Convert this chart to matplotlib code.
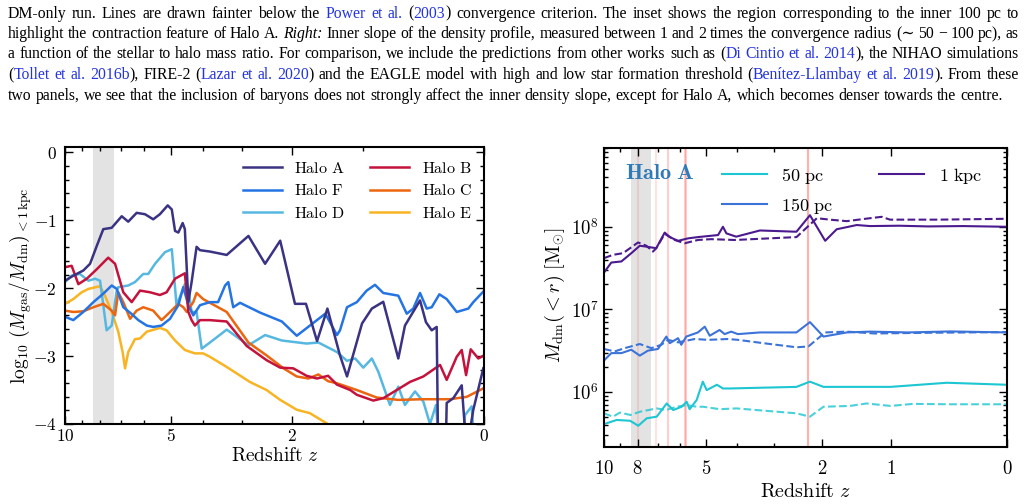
import numpy as np
import matplotlib
matplotlib.use('Agg')
import matplotlib.pyplot as plt
from matplotlib.ticker import FixedLocator, FixedFormatter, NullFormatter, LogLocator

plt.rcParams['mathtext.fontset'] = 'cm'
plt.rcParams['font.family'] = ['DejaVu Serif']
plt.rcParams['axes.unicode_minus'] = True

# ---------------- data: left panel  log10(Mgas/Mdm)(<1kpc) vs redshift ----------------
haloA_z = [10.0, 9.49, 8.91, 8.53, 8.17, 7.835, 7.42, 6.95, 6.66, 6.30, 5.96, 5.64, 5.39, 5.11, 4.97,
           4.86, 4.75, 4.61, 4.54, 4.43, 4.33, 4.18, 4.08, 3.80, 3.36, 2.85, 2.50, 2.21, 1.95, 1.77,
           1.60, 1.45, 1.28, 1.19, 1.01, 0.90, 0.78, 0.633, 0.572, 0.442, 0.394, 0.349, 0.311, 0.300,
           0.245, 0.238, 0.192, 0.136, 0.105, 0.063, 0.004]
haloA_y = [-1.89, -1.815, -1.74, -1.64, -1.376, -1.13, -1.11, -0.94, -1.02, -0.89, -0.91, -0.985, -0.91, -0.78, -0.84,
           -1.156, -1.18, -1.04, -1.13, -2.2, -1.91, -1.39, -1.44, -1.46, -1.51, -1.23, -1.64, -1.30, -2.23, -2.23,
           -2.78, -2.30, -2.99, -3.30, -2.52, -2.30, -2.20, -3.035, -2.55, -2.18, -2.50, -2.62, -2.57, -4.4,
           -4.4, -3.69, -3.62, -3.43, -4.4, -3.79, -3.18]

haloB_z = [10.0, 9.59, 9.19, 8.71, 8.17, 7.59, 7.26, 6.88, 6.51, 6.16, 5.76, 5.39, 5.15, 4.86, 4.54, 4.43,
           4.33, 4.23, 4.08, 3.80, 3.36, 2.89, 2.47, 2.21, 1.98, 1.76, 1.60, 1.44, 1.32, 1.15, 1.07, 0.884,
           0.78, 0.648, 0.527, 0.415, 0.286, 0.238, 0.169, 0.136, 0.108, 0.079, 0.033, 0.0]
haloB_y = [-1.69, -1.67, -1.94, -1.86, -1.72, -1.55, -1.64, -2.06, -2.205, -2.035, -2.06, -2.10, -2.06, -1.86, -1.78, -2.35,
           -2.47, -2.55, -2.47, -2.47, -2.49, -2.85, -3.06, -3.17, -3.18, -3.29, -3.33, -3.29, -3.42, -3.50, -3.57, -3.655,
           -3.62, -3.50, -3.38, -3.30, -3.13, -3.35, -3.01, -2.91, -3.28, -2.90, -3.035, -2.99]

haloF_z = [10.0, 9.49, 8.91, 8.35, 7.835, 7.42, 7.18, 6.88, 6.51, 6.23, 5.89, 5.64, 5.33, 5.03, 4.75, 4.59,
           4.43, 4.28, 4.08, 3.80, 3.58, 3.40, 3.32, 3.20, 3.04, 2.60, 2.18, 1.92, 1.48, 1.32, 1.28, 1.19,
           1.07, 0.957, 0.866, 0.78, 0.633, 0.556, 0.499, 0.442, 0.388, 0.349, 0.291, 0.238, 0.169, 0.094,
           0.063, 0.004]
haloF_y = [-2.42, -2.47, -2.35, -2.205, -2.08, -1.96, -2.01, -2.28, -2.38, -2.47, -2.55, -2.57, -2.55, -2.45, -2.25, -1.985,
           -2.25, -2.40, -2.25, -2.205, -2.205, -1.96, -1.91, -2.28, -2.215, -2.36, -2.49, -2.70, -2.375, -2.69, -2.62, -2.28,
           -2.205, -2.035, -1.95, -2.07, -2.11, -2.375, -2.30, -2.07, -2.30, -2.28, -2.09, -2.16, -2.35, -2.30,
           -2.205, -2.05]

haloD_z = [10.0, 9.59, 9.10, 8.62, 8.26, 8.0, 7.835, 7.67, 7.42, 7.18, 7.11, 6.66, 6.37, 6.03, 5.83, 5.57,
           5.21, 4.97, 4.81, 4.70, 4.54, 4.43, 4.33, 4.18, 4.03, 3.80, 3.36, 2.85, 2.50, 2.18, 1.76, 1.58,
           1.32, 1.19, 1.09, 0.995, 0.90, 0.831, 0.713, 0.633, 0.572, 0.484, 0.415, 0.362, 0.316, 0.29,
           0.13, 0.115, 0.073, 0.055]
haloD_y = [-1.91, -1.815, -1.79, -1.89, -1.86, -1.89, -2.25, -2.62, -2.55, -2.035, -1.985, -1.96, -1.91, -1.79, -1.79, -1.64,
           -1.47, -1.425, -2.25, -2.13, -1.94, -2.01, -2.35, -2.35, -2.89, -2.80, -2.61, -2.84, -2.69, -2.77, -2.815, -2.80,
           -2.94, -3.07, -3.035, -3.17, -3.035, -3.23, -3.72, -3.45, -3.72, -3.52, -3.67, -4.0, -3.72, -4.4,
           -4.4, -3.87, -3.74, -4.4]

haloC_z = [10.0, 9.49, 8.91, 8.35, 7.835, 7.42, 7.26, 7.11, 6.88, 6.58, 6.30, 6.03, 5.64, 5.33, 5.03, 4.75,
           4.59, 4.48, 4.28, 4.18, 3.99, 3.36, 2.85, 2.47, 2.15, 1.92, 1.73, 1.58, 1.44, 1.32, 1.07, 0.848,
           0.633, 0.415, 0.215, 0.104, 0.0]
haloC_y = [-2.33, -2.35, -2.34, -2.28, -2.23, -2.33, -2.40, -2.06, -2.205, -2.45, -2.33, -2.28, -2.33, -2.47, -2.35, -2.23,
           -2.28, -2.35, -2.205, -2.07, -2.16, -2.35, -2.80, -2.99, -3.18, -3.30, -3.33, -3.27, -3.37, -3.40, -3.50, -3.61,
           -3.645, -3.635, -3.635, -3.60, -3.47]

haloE_z = [10.0, 9.49, 9.0, 8.62, 8.0, 7.75, 7.42, 7.11, 6.91, 6.80, 6.66, 6.37, 6.16, 5.89, 5.39, 5.15,
           4.86, 4.54, 4.23, 3.99, 3.80, 3.36, 2.82, 2.47, 2.21, 1.92, 1.71, 1.46, 1.30]
haloE_y = [-2.23, -2.16, -2.06, -2.01, -1.97, -2.11, -2.35, -2.64, -2.94, -3.18, -2.94, -2.75, -2.74, -2.64, -2.585, -2.62,
           -2.77, -2.91, -2.96, -2.96, -3.01, -3.16, -3.38, -3.50, -3.645, -3.79, -3.84, -3.99, -4.15]

halo_names = ['Halo A', 'Halo F', 'Halo D', 'Halo B', 'Halo C', 'Halo E']

# ---------------- data: right panel  Mdm(<r) of Halo A ----------------
kpc1_solid_z = [10.0, 9.53, 8.92, 8.35, 7.89, 7.55, 7.06, 6.665, 6.44, 6.08, 5.67, 5.29, 4.58, 4.42, 4.31,
                4.01, 3.35, 2.50, 2.23, 1.95, 1.755, 1.445, 1.26, 0.9, 0.6, 0.3, 0.0]
kpc1_solid_m = [2.79e7, 3.69e7, 3.80e7, 4.79e7, 5.89e7, 5.75e7, 5.50e7, 8.51e7, 7.50e7, 6.76e7, 7.24e7, 7.50e7,
                7.94e7, 1.0e8, 8.32e7, 7.59e7, 9.02e7, 8.71e7, 1.38e8, 6.76e7, 9.33e7, 1.05e8, 1.02e8, 1.03e8,
                1.01e8, 1.02e8, 1.0e8]
kpc1_dash_z = [10.0, 9.43, 8.82, 7.98, 7.55, 7.22, 7.06, 6.665, 6.22, 5.81, 5.29, 4.82, 4.055, 2.50, 2.10,
               1.87, 1.595, 1.26, 1.108, 1.006, 0.5, 0.0]
kpc1_dash_m = [4.17e7, 4.57e7, 4.79e7, 6.46e7, 5.89e7, 5.01e7, 5.5e7, 8.22e7, 6.92e7, 6.31e7, 6.92e7, 7.08e7,
               6.92e7, 7.50e7, 1.27e8, 1.22e8, 1.17e8, 1.27e8, 1.32e8, 1.22e8, 1.22e8, 1.25e8]

pc150_solid_z = [10.0, 9.53, 8.92, 8.35, 7.89, 7.47, 6.98, 6.59, 6.44, 6.08, 5.945, 5.74, 5.29, 5.04, 4.865,
                 4.53, 4.365, 4.16, 3.96, 3.35, 2.50, 2.23, 1.98, 1.595, 1.26, 0.8, 0.4, 0.0]
pc150_solid_m = [2.40e6, 2.95e6, 2.95e6, 3.24e6, 2.75e6, 3.16e6, 3.31e6, 4.68e6, 3.89e6, 4.47e6, 3.72e6, 4.68e6,
                 5.25e6, 6.17e6, 4.79e6, 5.62e6, 5.01e6, 5.37e6, 5.01e6, 5.25e6, 5.25e6, 7.0e6, 4.68e6, 5.25e6,
                 5.37e6, 5.25e6, 5.4e6, 5.25e6]
pc150_dash_z = [10.0, 9.32, 8.72, 7.89, 7.30, 6.82, 6.516, 6.08, 5.41, 4.925, 4.26, 3.96, 3.26, 2.50, 2.26,
                1.95, 1.595, 1.2, 0.6, 0.0]
pc150_dash_m = [3.31e6, 3.09e6, 3.39e6, 3.80e6, 3.39e6, 3.72e6, 4.27e6, 3.98e6, 4.37e6, 4.27e6, 4.37e6, 4.27e6,
                3.89e6, 3.47e6, 3.55e6, 5.25e6, 5.37e6, 5.1e6, 5.2e6, 5.3e6]

pc50_solid_z = [10.0, 9.2, 8.42, 7.97, 7.53, 7.04, 6.575, 6.285, 5.93, 5.725, 5.61, 5.34, 5.11, 4.97, 4.62,
                4.42, 4.2, 2.5, 2.23, 1.98, 1.0, 0.43, 0.0]
pc50_solid_m = [4.07e5, 4.57e5, 4.47e5, 3.89e5, 4.79e5, 5.01e5, 7.24e5, 6.03e5, 6.61e5, 7.59e5, 6.17e5, 7.94e5,
                1.33e6, 1.05e6, 1.22e6, 1.10e6, 1.10e6, 1.15e6, 1.33e6, 1.15e6, 1.15e6, 1.29e6, 1.22e6]
pc50_dash_z = [10.0, 9.43, 9.0, 8.4, 7.88, 7.04, 6.6, 6.14, 5.725, 5.34, 5.1, 4.52, 4.0, 2.5, 2.23, 1.98,
               1.545, 1.305, 1.0, 0.747, 0.43, 0.0]
pc50_dash_m = [5.5e5, 5.01e5, 5.62e5, 5.25e5, 5.75e5, 6.31e5, 6.03e5, 6.61e5, 6.92e5, 6.61e5, 6.61e5, 6.17e5,
               6.31e5, 5.5e5, 5.01e5, 6.61e5, 6.76e5, 7.24e5, 6.76e5, 7.16e5, 7.08e5, 7.08e5]

radius_labels = ['50 pc', '150 pc', '1 kpc']
gray_band_z = (7.3, 8.35)
merger_z = [8.0, 7.05, 6.52, 5.80, 5.75, 2.26]

left_xticks = [10, 5, 2, 0]
left_xminor = [9, 8, 7, 6, 4, 3, 1]
right_xticks = [10, 8, 5, 2, 1, 0]
right_xminor = [9, 7, 6, 4, 3]
left_yticks = [0, -1, -2, -3, -4]

# ---------------- figure ----------------
W, H = 1025, 504
fig = plt.figure(figsize=(W / 100, H / 100), dpi=100)


def fwd(z):
    return np.log10(1 + np.clip(np.asarray(z, dtype=float), -0.999, None))


def inv(x):
    return 10 ** np.asarray(x, dtype=float) - 1


def style_axes(ax):
    for s in ax.spines.values():
        s.set_linewidth(1.5)
    ax.tick_params(which='both', direction='in', top=True, right=True, width=1.0)
    ax.tick_params(which='major', length=5.5)
    ax.tick_params(which='minor', length=3)


# ---- left panel ----
ax1 = fig.add_axes([65 / W, 80 / H, 419 / W, 277 / H])
ax1.set_xscale('function', functions=(fwd, inv))
colors_left = {'Halo A': '#3a3283', 'Halo F': '#2474e4', 'Halo D': '#56b8e0',
               'Halo B': '#c4123c', 'Halo C': '#ec650f', 'Halo E': '#f8b422'}
series_left = {'Halo A': (haloA_z, haloA_y), 'Halo F': (haloF_z, haloF_y), 'Halo D': (haloD_z, haloD_y),
               'Halo B': (haloB_z, haloB_y), 'Halo C': (haloC_z, haloC_y), 'Halo E': (haloE_z, haloE_y)}
ax1.axvspan(gray_band_z[0], gray_band_z[1], color='#e3e3e3', lw=0, zorder=0)
draw_order = ['Halo E', 'Halo D', 'Halo C', 'Halo F', 'Halo B', 'Halo A']
handles = {}
for name in draw_order:
    zz, yy = series_left[name]
    ln, = ax1.plot(zz, yy, color=colors_left[name], lw=1.8, solid_joinstyle='round')
    handles[name] = ln
ax1.set_xlim(10, 0)
ax1.set_ylim(-4, 0.08)
ax1.xaxis.set_major_locator(FixedLocator(left_xticks))
ax1.xaxis.set_major_formatter(FixedFormatter([r'$%d$' % v for v in left_xticks]))
ax1.xaxis.set_minor_locator(FixedLocator(left_xminor))
ax1.xaxis.set_minor_formatter(NullFormatter())
ax1.yaxis.set_major_locator(FixedLocator(left_yticks))
ax1.yaxis.set_major_formatter(FixedFormatter([r'$%d$' % v for v in left_yticks]))
ax1.yaxis.set_minor_locator(FixedLocator(np.arange(-4, 0.01, 0.2)))
style_axes(ax1)
ax1.tick_params(axis='x', which='major', labelsize=12.5, pad=3)
ax1.tick_params(axis='y', which='major', labelsize=12.5, pad=6)
ax1.set_xlabel(r'$\mathrm{Redshift}\ z$', fontsize=14)
ax1.xaxis.set_label_coords(0.5, -0.083)
ax1.xaxis.label.set_va('top')
ax1.set_ylabel(r'$\log_{10}\,(M_{\rm gas}/M_{\rm dm})_{<1\,{\rm kpc}}$', fontsize=14)
ax1.yaxis.set_label_coords(-0.074, 0.5)
ax1.legend([handles[n] for n in halo_names], [r'$\mathrm{' + n.replace(' ', r'\ ') + '}$' for n in halo_names],
           ncol=2, frameon=False, fontsize=11.5, handlelength=2.4, columnspacing=1.6,
           labelspacing=0.35, loc='upper right', bbox_to_anchor=(1.0, 1.0), borderaxespad=0.4)

# ---- right panel ----
ax2 = fig.add_axes([604 / W, 57 / H, 403 / W, 299 / H])
ax2.set_xscale('function', functions=(fwd, inv))
ax2.set_yscale('log')
ax2.axvspan(gray_band_z[0], gray_band_z[1], color='#e3e3e3', lw=0, zorder=0)
merger_alpha = [0.12, 0.12, 0.22, 0.22, 0.22, 0.35]
for zm, al in zip(merger_z, merger_alpha):
    ax2.axvline(zm, color='#ff2020', alpha=al, lw=1.5, zorder=0.5)

c50, c150, c1k = '#1cc6d2', '#3b73d9', '#4c1a8e'
l50, = ax2.plot(pc50_solid_z, pc50_solid_m, color=c50, lw=1.5)
ax2.plot(pc50_dash_z, pc50_dash_m, color=c50, lw=1.5, ls='--', alpha=0.8)
l150, = ax2.plot(pc150_solid_z, pc150_solid_m, color=c150, lw=1.5)
ax2.plot(pc150_dash_z, pc150_dash_m, color=c150, lw=1.5, ls='--')
l1k, = ax2.plot(kpc1_solid_z, kpc1_solid_m, color=c1k, lw=1.5)
ax2.plot(kpc1_dash_z, kpc1_dash_m, color=c1k, lw=1.5, ls='--')

ax2.set_xlim(10, 0)
ax2.set_ylim(2.15e5, 9.0e8)
ax2.xaxis.set_major_locator(FixedLocator(right_xticks))
ax2.xaxis.set_major_formatter(FixedFormatter([r'$%d$' % v for v in right_xticks]))
ax2.xaxis.set_minor_locator(FixedLocator(right_xminor))
ax2.xaxis.set_minor_formatter(NullFormatter())
ax2.yaxis.set_major_locator(FixedLocator([1e6, 1e7, 1e8]))
ax2.yaxis.set_major_formatter(FixedFormatter([r'$10^{6}$', r'$10^{7}$', r'$10^{8}$']))
ax2.yaxis.set_minor_locator(LogLocator(base=10, subs=np.arange(2, 10), numticks=20))
ax2.yaxis.set_minor_formatter(NullFormatter())
style_axes(ax2)
ax2.tick_params(axis='x', which='major', labelsize=13.5, pad=9)
ax2.tick_params(axis='y', which='major', labelsize=13.5, pad=4)
ax2.set_xlabel(r'$\mathrm{Redshift}\ z$', fontsize=14.5)
ax2.xaxis.set_label_coords(0.5, -0.117)
ax2.xaxis.label.set_va('top')
ax2.set_ylabel(r'$M_{\rm dm}(<r)\ [\mathrm{M}_{\odot}]$', fontsize=14.5)
ax2.yaxis.set_label_coords(-0.092, 0.51)
ax2.text(0.052, 0.918, r'$\mathbf{Halo\ A}$', transform=ax2.transAxes, color='#2f7ab8',
         fontsize=16, va='center', ha='left')
ax2.legend([l50, l150, l1k], [r'$\mathrm{%s}$' % s.replace(' ', r'\ ') for s in radius_labels],
           ncol=2, frameon=False, fontsize=13, handlelength=2.5, columnspacing=2.55,
           labelspacing=0.55, loc='upper right', bbox_to_anchor=(0.970, 0.983), borderaxespad=0.3)

# ---------------- caption text (justified) ----------------
K = 'black'
B = '#2434e0'
cap_lines = [
    ([("DM-only run. Lines are drawn fainter below the ", K, 'normal'), ("Power et al.", B, 'normal'),
      (" (", K, 'normal'), ("2003", B, 'normal'), (")", K, 'normal'),
      (" convergence criterion. The inset shows the region corresponding to the inner 100 pc to", K, 'normal')], True),
    ([("highlight the contraction feature of Halo A. ", K, 'normal'), ("Right:", K, 'italic'),
      (" Inner slope of the density profile, measured between 1 and 2 times the convergence radius (\u223c 50 \u2212 100 pc), as",
       K, 'normal')], True),
    ([("a function of the stellar to halo mass ratio. For comparison, we include the predictions from other works such as (",
       K, 'normal'), ("Di Cintio et al. 2014", B, 'normal'), ("), the NIHAO simulations", K, 'normal')], True),
    ([("(", K, 'normal'), ("Tollet et al. 2016b", B, 'normal'), ("), FIRE-2 (", K, 'normal'),
      ("Lazar et al. 2020", B, 'normal'),
      (") and the EAGLE model with high and low star formation threshold (", K, 'normal'),
      ("Ben\u00edtez-Llambay et al. 2019", B, 'normal'), ("). From these", K, 'normal')], True),
    ([("two panels, we see that the inclusion of baryons does not strongly affect the inner density slope, "
       "except for Halo A, which becomes denser towards the centre.", K, 'normal')], False),
]
cap_baselines = [17.5, 38, 58.5, 79, 99.5]
cap_left, cap_right = 8, 1019
cap_font = ['Liberation Serif', 'DejaVu Serif']
cap_size = 11.3

renderer = fig.canvas.get_renderer()


def to_words(segs):
    words = [[]]
    for txt, col, sty in segs:
        parts = txt.split(' ')
        for i, p in enumerate(parts):
            if i > 0:
                words.append([])
            if p:
                words[-1].append((p, col, sty))
    return [w for w in words if w]


def measure(s, sty):
    t = fig.text(0, 0, s, fontsize=cap_size, family=cap_font, style=sty)
    w = t.get_window_extent(renderer).width
    t.remove()
    return w


space_w = measure('a a', 'normal') - measure('aa', 'normal')
for (segs, justify), base in zip(cap_lines, cap_baselines):
    words = to_words(segs)
    widths = [[measure(p, sty) for p, col, sty in w] for w in words]
    total = sum(sum(ws) for ws in widths)
    if justify and len(words) > 1:
        gap = (cap_right - cap_left - total) / (len(words) - 1)
    else:
        gap = space_w
    x = cap_left
    for w, ws in zip(words, widths):
        xx = x
        for (p, col, sty), pw in zip(w, ws):
            fig.text(xx / W, 1 - base / H, p, fontsize=cap_size, family=cap_font, style=sty, color=col,
                     va='baseline', ha='left')
            xx += pw
        x += sum(ws) + gap

fig.savefig('out.png', dpi=100)
